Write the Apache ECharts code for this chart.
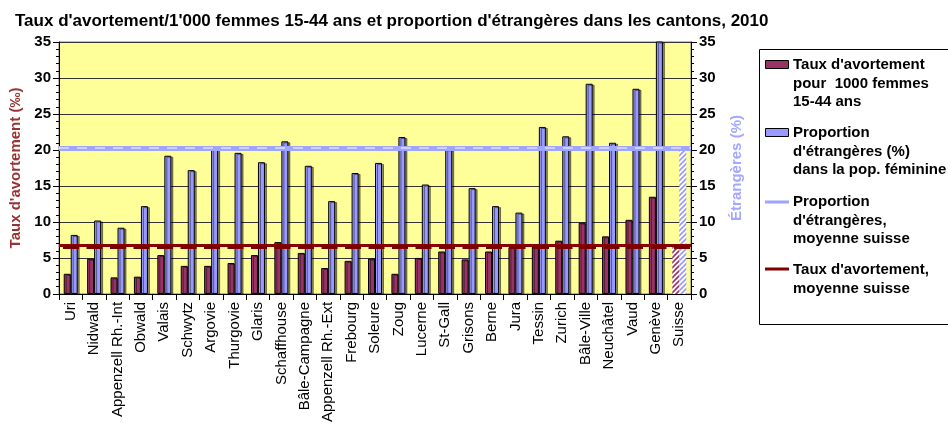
<!DOCTYPE html>
<html>
<head>
<meta charset="utf-8">
<script src="https://cdn.jsdelivr.net/npm/echarts@6/dist/echarts.min.js"></script>
<style>
  html, body { margin: 0; padding: 0; background: #fff; }
  #chart { width: 948px; height: 425px; }
</style>
</head>
<body>
<div id="chart"></div>
<script>
// cantons
var cantons = ["Uri", "Nidwald", "Appenzell Rh.-Int", "Obwald", "Valais", "Schwytz", "Argovie",
  "Thurgovie", "Glaris", "Schaffhouse", "Bâle-Campagne", "Appenzell Rh.-Ext", "Frebourg", "Soleure",
  "Zoug", "Lucerne", "St-Gall", "Grisons", "Berne", "Jura", "Tessin", "Zurich", "Bâle-Ville",
  "Neuchâtel", "Vaud", "Genève", "Suisse"];
// taux d'avortement pour 1000 femmes 15-44 ans
var tauxAvortement = [2.8, 4.9, 2.3, 2.4, 5.4, 3.9, 3.9, 4.3, 5.4, 7.2, 5.7, 3.6, 4.6, 4.9,
  2.8, 5.0, 5.9, 4.8, 5.9, 6.5, 6.6, 7.4, 9.9, 8.0, 10.3, 13.5, 6.6];
// proportion d'étrangères (%)
var etrangeres = [8.2, 10.2, 9.2, 12.2, 19.2, 17.2, 20.2, 19.6, 18.3, 21.2, 17.8, 12.9, 16.8, 18.2,
  21.8, 15.2, 20.1, 14.7, 12.2, 11.3, 23.2, 21.9, 29.2, 21.0, 28.5, 38, 20.2];
// moyennes suisses
var moyenneEtrangeres = 20.3;
var moyenneTaux = 6.7;
var axisTicks = [0, 5, 10, 15, 20, 25, 30, 35];

var legendLabels = [
  "Taux d'avortement\npour  1000 femmes\n15-44 ans",
  "Proportion\nd'étrangères (%)\ndans la pop. féminine",
  "Proportion\nd'étrangères,\nmoyenne suisse",
  "Taux d'avortement,\nmoyenne suisse"
];

var RED = "#993366";
var BLUE = "#9999FF";
var FONT = "Liberation Sans, Arial, sans-serif";

// hachures pour la barre Suisse
function hatch(color) {
  var c = document.createElement("canvas");
  c.width = 5; c.height = 5;
  var ctx = c.getContext("2d");
  ctx.fillStyle = "#fff";
  ctx.fillRect(0, 0, 5, 5);
  ctx.strokeStyle = color;
  ctx.lineWidth = 1.6;
  ctx.beginPath();
  ctx.moveTo(-1, 6); ctx.lineTo(6, -1);
  ctx.moveTo(-1, 1); ctx.lineTo(1, -1);
  ctx.moveTo(4, 6); ctx.lineTo(6, 4);
  ctx.stroke();
  return { image: c, repeat: "repeat" };
}

function buildData(values, color) {
  return values.map(function (v, i) {
    if (cantons[i] === "Suisse") {
      return { value: v, itemStyle: { color: hatch(color), borderWidth: 0, shadowColor: "transparent" } };
    }
    return v;
  });
}

var myChart = echarts.init(document.getElementById("chart"));

var yAxisBase = {
  type: "value",
  min: axisTicks[0],
  max: axisTicks[axisTicks.length - 1],
  interval: 5,
  nameLocation: "middle",
  nameTextStyle: { fontFamily: FONT, fontWeight: "bold", fontSize: 15 },
  axisLine: { show: true, lineStyle: { color: "#000", width: 1 } },
  axisTick: { show: true, length: 6, lineStyle: { color: "#000" } },
  minorTick: { show: true, splitNumber: 5, length: 3, lineStyle: { color: "#000" } },
  axisLabel: { color: "#000", fontFamily: FONT, fontWeight: "bold", fontSize: 15, margin: 8 }
};

var option = {
  animation: false,
  backgroundColor: "#fff",
  title: {
    text: "Taux d'avortement/1'000 femmes 15-44 ans et proportion d'étrangères dans les cantons, 2010",
    left: 10,
    top: 8,
    textStyle: { fontFamily: FONT, fontWeight: "bold", fontSize: 17, color: "#000" }
  },
  grid: {
    left: 57, right: 257, top: 42, bottom: 131,
    show: true,
    backgroundColor: "#FFFF99",
    borderColor: "#808060",
    borderWidth: 1
  },
  xAxis: {
    type: "category",
    data: cantons,
    axisLine: { lineStyle: { color: "#000" } },
    axisTick: { show: true, length: 6, lineStyle: { color: "#000" } },
    axisLabel: {
      rotate: 90, interval: 0, margin: 8, color: "#000",
      fontFamily: FONT, fontSize: 15
    }
  },
  yAxis: [
    Object.assign({}, yAxisBase, {
      position: "left",
      name: "Taux d'avortement (‰)",
      nameGap: 36,
      nameTextStyle: Object.assign({}, yAxisBase.nameTextStyle, { color: "#993333" }),
      splitLine: { show: true, lineStyle: { color: "#333", width: 1 } }
    }),
    Object.assign({}, yAxisBase, {
      position: "right",
      name: "Étrangères (%)",
      nameGap: 38,
      nameTextStyle: Object.assign({}, yAxisBase.nameTextStyle, { color: "#A3A8FF" }),
      splitLine: { show: false }
    })
  ],
  series: [
    {
      name: "Taux d'avortement pour 1000 femmes 15-44 ans",
      type: "bar",
      yAxisIndex: 0,
      barWidth: 7,
      barGap: "0%",
      data: buildData(tauxAvortement, RED),
      itemStyle: {
        color: RED, borderColor: "#000", borderWidth: 1,
        shadowColor: "rgba(0,0,0,0.45)", shadowOffsetX: 2, shadowOffsetY: 1
      }
    },
    {
      name: "Proportion d'étrangères (%) dans la pop. féminine",
      type: "bar",
      yAxisIndex: 1,
      barWidth: 7,
      barGap: "0%",
      data: buildData(etrangeres, BLUE),
      itemStyle: {
        color: BLUE, borderColor: "#000", borderWidth: 1,
        shadowColor: "rgba(0,0,0,0.45)", shadowOffsetX: 2, shadowOffsetY: 1
      }
    },
    {
      name: "Proportion d'étrangères, moyenne suisse",
      type: "line",
      yAxisIndex: 1,
      data: [],
      markLine: {
        silent: true, symbol: "none", label: { show: false },
        data: [
          { yAxis: moyenneEtrangeres, lineStyle: { color: "#9FA4FF", width: 5, type: "solid" } },
          { yAxis: moyenneEtrangeres, lineStyle: { color: "#DCDFFF", width: 1.5, type: [10, 8] } }
        ]
      }
    },
    {
      name: "Taux d'avortement, moyenne suisse",
      type: "line",
      yAxisIndex: 0,
      data: [],
      markLine: {
        silent: true, symbol: "none", label: { show: false },
        data: [
          { yAxis: moyenneTaux, lineStyle: { color: "#8B0000", width: 3, type: "solid" } },
          { yAxis: moyenneTaux - 0.1, lineStyle: { color: "#7A0000", width: 4, type: [16, 7.5], dashOffset: -4 } }
        ]
      }
    }
  ],
  graphic: [
    {
      type: "rect", left: 759, top: 49, z: 10,
      shape: { width: 200, height: 275 },
      style: { fill: "#fff", stroke: "#000", lineWidth: 1 }
    },
    {
      type: "rect", left: 765, top: 60, z: 11,
      shape: { width: 23, height: 8 },
      style: { fill: RED, stroke: "#000", lineWidth: 1 }
    },
    {
      type: "rect", left: 765, top: 128, z: 11,
      shape: { width: 23, height: 8 },
      style: { fill: BLUE, stroke: "#000", lineWidth: 1 }
    },
    {
      type: "line", z: 11,
      shape: { x1: 765, y1: 202, x2: 789, y2: 202 },
      style: { stroke: "#9FA4FF", lineWidth: 3 }
    },
    {
      type: "line", z: 11,
      shape: { x1: 765, y1: 269, x2: 789, y2: 269 },
      style: { stroke: "#800000", lineWidth: 3 }
    }
  ].concat(legendLabels.map(function (t, i) {
    var tops = [56, 124, 193, 261];
    return {
      type: "text", left: 793, top: tops[i], z: 11,
      style: {
        text: t, fill: "#000", font: "bold 15px " + FONT, lineHeight: 18.3
      }
    };
  }))
};

myChart.setOption(option);
window.addEventListener("resize", function () {
  myChart.resize();
});
</script>
</body>
</html>
